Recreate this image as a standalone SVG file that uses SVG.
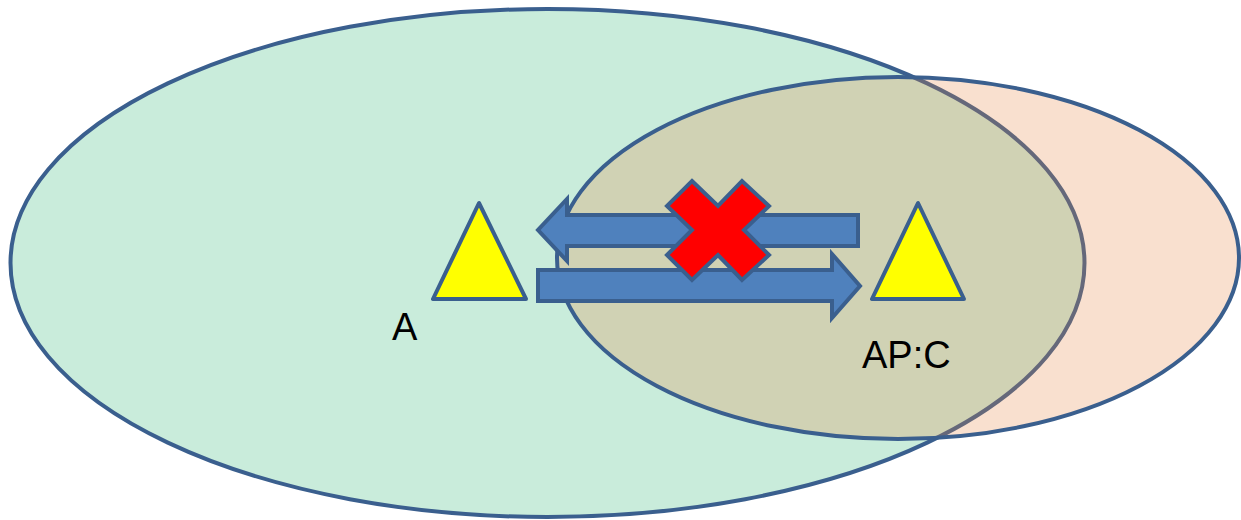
<svg xmlns="http://www.w3.org/2000/svg" width="1241" height="520" viewBox="0 0 1241 520">
<style>
.outline{stroke:#3a5f8e;stroke-width:4;stroke-linejoin:round}
.tri{fill:#ffff00}
.arrow{fill:#4f81bd;stroke:#3a5f8e;stroke-width:4;stroke-linejoin:miter}
.lbl{font-family:"Liberation Sans",Arial,sans-serif;font-size:38px;fill:#000}
</style>
<rect width="1241" height="520" fill="#ffffff"/>
<g id="region-a">
<ellipse cx="547.5" cy="263" rx="537" ry="254" fill="#c9ecdb" class="outline"/>
</g>
<g id="region-c">
<ellipse cx="898" cy="258" rx="341" ry="181" fill="#e7833f" fill-opacity="0.25" class="outline"/>
</g>
<g id="node-a">
<polygon points="479,203 433,299 526,299" class="tri outline"/>
<text x="392" y="340" class="lbl">A</text>
</g>
<g id="node-apc">
<polygon points="918,203 872,299 964,299" class="tri outline"/>
<text x="862" y="368" class="lbl">AP:C</text>
</g>
<g id="connectors">
<polygon class="arrow" points="858,215 567,215 567,199 538,230 567,261 567,246 858,246"/>
<polygon class="arrow" points="538,270 832,270 832,254 860,286 832,318 832,301 538,301"/>
</g>
<g id="blocked">
<polygon points="692,181 718,206 742,181 769,206 744,230 769,255 742,280 718,255 692,280 667,255 692,230 667,206" fill="#ff0000" stroke="#3a5f8e" stroke-width="4" stroke-linejoin="miter"/>
</g>
</svg>
